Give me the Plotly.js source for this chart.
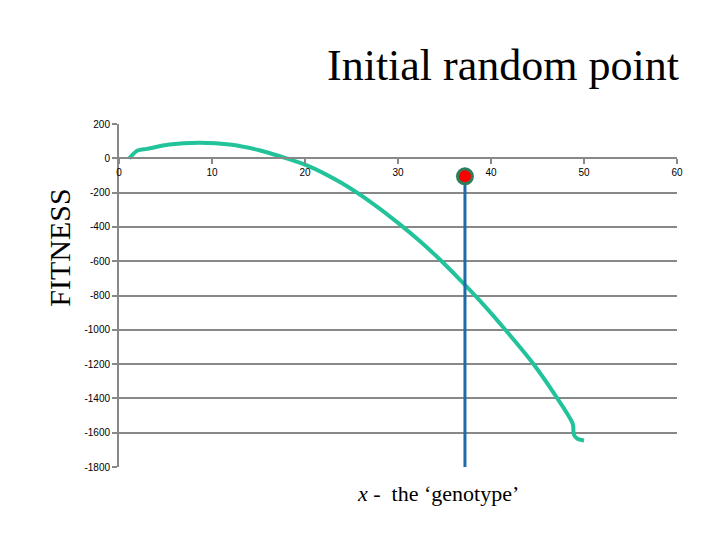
<!DOCTYPE html>
<html>
<head>
<meta charset="utf-8">
<script src="https://cdn.plot.ly/plotly-3.0.1.min.js"></script>
<style>html,body{margin:0;padding:0;background:#fff;}#chart{width:720px;height:540px;}</style>
</head>
<body>
<div id="chart"></div>
<script>
// Fitness curve (x = genotype, y = fitness)
var curveX = [1.1, 2.0, 3.0, 5.4, 8.7, 11.9, 15.1, 17.3, 20.2, 23.8, 27.4, 30.2, 32.4, 34.5, 36.7, 38.8, 41.7, 44.5, 46.7, 48.8, 48.9, 49.3, 50.0];
var curveY = [0, 45, 55, 80, 90, 80, 47, 12, -41, -140, -268, -385, -485, -590, -710, -830, -1010, -1195, -1365, -1550, -1610, -1635, -1645];
// Initial random point
var pointX = [37.2];
var pointY = [-105];
// Axis ticks
var yTickVals = [200, 0, -200, -400, -600, -800, -1000, -1200, -1400, -1600, -1800];
var yTickText = ['200', '0', '-200', '-400', '-600', '-800', '-1000', '-1200', '-1400', '-1600', '-1800'];
var xTickVals = [0, 10, 20, 30, 40, 50, 60];
var xTickText = ['0', '10', '20', '30', '40', '50', '60'];
var yMin = -1800, yMax = 200;

var traces = [
  {x: curveX, y: curveY, type: 'scatter', mode: 'lines',
   line: {color: '#22c39b', width: 4, shape: 'spline', smoothing: 0.8}, hoverinfo: 'skip'},
  {x: [pointX[0], pointX[0]], y: [pointY[0], yMin], type: 'scatter', mode: 'lines',
   line: {color: '#1f6aa8', width: 3}, hoverinfo: 'skip'},
  {x: pointX, y: pointY, type: 'scatter', mode: 'markers',
   marker: {color: '#ff0000', size: 15, line: {color: '#2e7d5c', width: 3}}, hoverinfo: 'skip'}
];

var serif = 'Liberation Serif, Times New Roman, serif';
var tickFont = {family: 'Liberation Sans, Arial, sans-serif', size: 10, color: '#000'};
var layout = {
  width: 720, height: 540,
  paper_bgcolor: '#fff', plot_bgcolor: '#fff',
  showlegend: false,
  margin: {l: 119, r: 43, t: 124, b: 73},
  xaxis: {range: [0, 60], anchor: 'free', position: (0 - yMin) / (yMax - yMin),
          tickvals: xTickVals, ticktext: xTickText, ticks: 'outside', ticklen: 5, tickwidth: 2,
          tickcolor: '#888', showline: true, linecolor: '#888', linewidth: 2,
          showgrid: false, zeroline: false, tickfont: tickFont},
  yaxis: {range: [yMin, yMax], tickvals: yTickVals, ticktext: yTickText, ticks: 'outside',
          ticklen: 5, tickwidth: 2, tickcolor: '#888', showline: true, linecolor: '#888', linewidth: 2,
          showgrid: true, gridcolor: '#888', gridwidth: 2, zeroline: false, tickfont: tickFont},
  annotations: [
    {text: 'Initial random point', xref: 'paper', yref: 'paper', x: 1.008, y: 1.094,
     xanchor: 'right', yanchor: 'bottom', showarrow: false,
     font: {family: serif, size: 44, color: '#000'}},
    {text: 'FITNESS', xref: 'paper', yref: 'paper', x: -0.107, y: 0.64, textangle: -90,
     xanchor: 'center', yanchor: 'middle', showarrow: false,
     font: {family: serif, size: 30, color: '#000'}},
    {text: '<i>x</i> -  the ‘genotype’', xref: 'paper', yref: 'paper', x: 0.571, y: -0.035,
     xanchor: 'center', yanchor: 'top', showarrow: false,
     font: {family: serif, size: 22, color: '#000'}}
  ]
};
Plotly.newPlot('chart', traces, layout, {displayModeBar: false, staticPlot: true});
</script>
</body>
</html>
